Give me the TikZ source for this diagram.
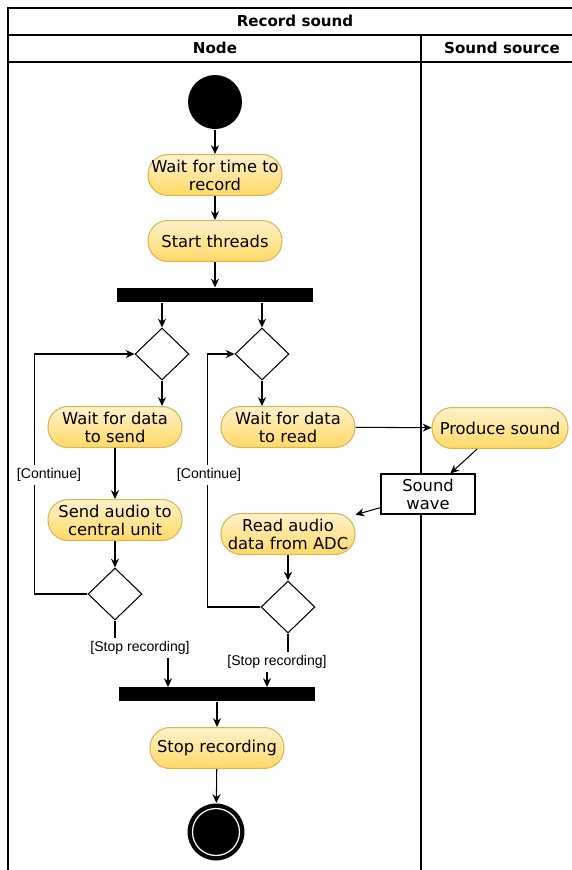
\documentclass[tikz,border=0pt]{standalone}
\usepackage{fontspec}
\setmainfont{DejaVu Sans}
\newfontfamily\guardfont{Liberation Sans}
\usetikzlibrary{arrows.meta,positioning,shapes.geometric}
\definecolor{actTop}{HTML}{FFF2CC}
\definecolor{actBottom}{HTML}{FFD966}
\definecolor{actLine}{HTML}{D6B656}

\begin{document}
\begin{tikzpicture}[x=0.02cm,y=-0.02cm,line width=0.6pt,
  action/.style={draw=actLine,top color=actTop,bottom color=actBottom,
    rounded corners=0.4cm,minimum width=2.68cm,minimum height=0.82cm,
    align=center,inner sep=1pt,font=\fontsize{9.3}{10.2}\selectfont},
  decision/.style={diamond,draw,fill=white,inner sep=0pt,
    minimum width=1.08cm,minimum height=1.04cm},
  syncBar/.style={rectangle,fill=black,inner sep=0pt,
    minimum width=3.92cm,minimum height=0.28cm},
  startDot/.style={circle,fill=black,inner sep=0pt,minimum size=1.08cm},
  endDot/.style={circle,fill=black,inner sep=0pt,minimum size=1.14cm},
  objectBox/.style={rectangle,draw,fill=white,minimum width=1.88cm,
    minimum height=0.8cm,align=center,inner sep=1pt,
    font=\fontsize{9.3}{10.2}\selectfont},
  guard/.style={fill=white,inner sep=2pt,font=\guardfont\fontsize{8}{9}\selectfont},
  laneHead/.style={font=\bfseries\fontsize{8.6}{10}\selectfont},
  flow/.style={-{Stealth[length=5pt,width=4.6pt]}}]
  \useasboundingbox (0,0) rectangle (572,870);

  % pool and lanes
  \draw (8,870) |- (572,8);
  \draw (8,35) -- (572,35);
  \draw (8,62) -- (572,62);
  \draw (421,35) -- (421,870);
  \node[laneHead] (title) at (295,21) {Record sound};
  \node[laneHead] (laneNode) at (215,48) {Node};
  \node[laneHead] (laneSource) at (502,48) {Sound source};

  % node lane
  \node[startDot] (start) at (215,102) {};
  \node[action] (waitTime) at (215,175) {Wait for time to\\record};
  \node[action] (startThreads) at (215,241) {Start threads};
  \node[syncBar] (fork) at (215,295) {};
  \node[decision] (loopSend) at (162,354) {};
  \node[decision] (loopRead) at (262,354) {};
  \node[action] (waitSend) at (115,427) {Wait for data\\to send};
  \node[action] (waitRead) at (288,427) {Wait for data\\to read};
  \node[action] (sendAudio) at (115,520) {Send audio to\\central unit};
  \node[action] (readAudio) at (288,534) {Read audio\\data from ADC};
  \node[decision] (checkSend) at (115,594) {};
  \node[decision] (checkRead) at (288,607) {};
  \node[syncBar] (join) at (217,694) {};
  \node[action] (stopRec) at (217,748) {Stop recording};
  \node[endDot] (end) at (216,832) {};
  \draw[white,line width=0.7pt] (end.center) circle (23.5);

  % sound source lane
  \node[action,minimum width=2.72cm] (produce) at (500,428) {Produce sound};
  \node[objectBox] (wave) at (428,494) {Sound\\wave};

  \coordinate (stopSendIn) at (168,687);
  \coordinate (stopReadIn) at (267,687);

  % flows
  \draw[flow] (start) -- (waitTime);
  \draw[flow] (waitTime) -- (startThreads);
  \draw[flow] (startThreads) -- (fork);
  \draw[flow] (fork.south -| loopSend) -- (loopSend);
  \draw[flow] (fork.south -| loopRead) -- (loopRead);
  \draw[flow] (loopSend.south) -- (waitSend.north -| loopSend);
  \draw[flow] (loopRead.south) -- (waitRead.north -| loopRead);
  \draw[flow] (waitSend) -- (sendAudio);
  \draw[flow] (sendAudio) -- (checkSend);
  \draw[flow] (readAudio) -- (checkRead);
  \draw[flow] (checkSend.west) -- ++(-53,0) |- (loopSend.west);
  \node[guard] (contSend) at (49,475) {[Continue]};
  \draw[flow] (checkRead.west) -- ++(-53,0) |- (loopRead.west);
  \node[guard] (contRead) at (209,475) {[Continue]};
  \draw[flow] (checkSend.south) -- (115,648) -| (stopSendIn);
  \node[guard] (stopSend) at (140,648) {[Stop recording]};
  \draw[flow] (checkRead.south) -- (288,662) -| (stopReadIn);
  \node[guard] (stopRead) at (277,662) {[Stop recording]};
  \draw[flow] (join) -- (stopRec);
  \draw[flow] (stopRec) -- (end);
  \draw[flow] (waitRead) -- (produce);
  \draw[flow] (produce) -- (wave);
  \draw[flow] (wave) -- (readAudio);
\end{tikzpicture}
\end{document}
